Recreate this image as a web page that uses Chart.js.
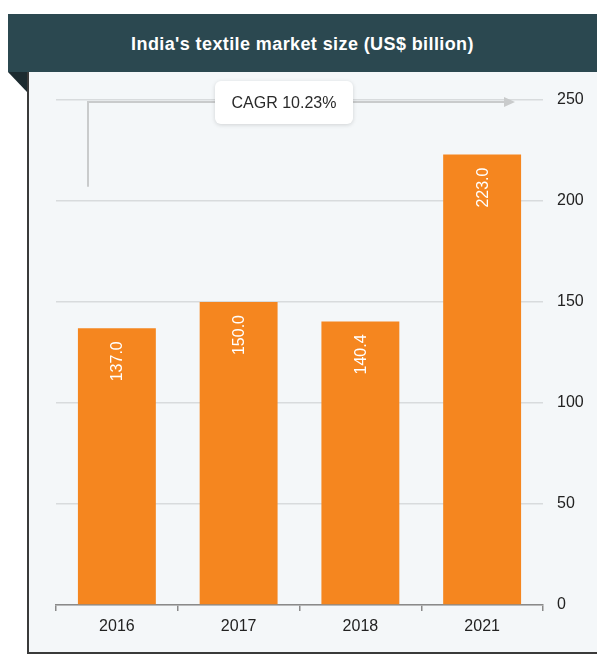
<!DOCTYPE html>
<html lang="en">
<head>
    <meta charset="UTF-8">
    <title>India's textile market size</title>
    <script src="https://cdn.jsdelivr.net/npm/chart.js"></script>
    <style>
        body {
            margin: 0;
            width: 597px;
            height: 660px;
            background: #ffffff;
            font-family: 'Liberation Sans', Arial, sans-serif;
            position: relative;
            overflow: hidden;
        }
        .header {
            position: absolute;
            left: 8px;
            top: 14px;
            width: 589px;
            height: 58px;
            background: #2b4850;
            color: #fff;
            font-weight: bold;
            font-size: 18px;
            letter-spacing: 0.4px;
            text-align: center;
            line-height: 60px;
        }
        .panel {
            position: absolute;
            left: 27px;
            top: 72px;
            width: 570px;
            height: 580px;
            background: #f4f7f9;
            border-left: 2px solid #3a3a3a;
            border-bottom: 2px solid #3a3a3a;
        }
        .corner {
            position: absolute;
            left: 8px;
            top: 72px;
            width: 0;
            height: 0;
            border-top: 20px solid #1c2b30;
            border-left: 19px solid transparent;
        }
        #chart {
            position: absolute;
            left: 0;
            top: 0;
        }
    </style>
</head>
<body>
    <div class="header">India's textile market size (US$ billion)</div>
    <div class="panel"></div>
    <div class="corner"></div>
    <canvas id="chart" width="597" height="660"></canvas>

    <script>
        const years = ['2016', '2017', '2018', '2021'];
        const marketSize = [137.0, 150.0, 140.4, 223.0];
        const yTicks = [0, 50, 100, 150, 200, 250];
        const cagrLabel = 'CAGR 10.23%';

        const FONT = '"Liberation Sans", Arial, sans-serif';

        // value labels rotated inside the top of each bar
        const barLabels = {
            id: 'barLabels',
            afterDatasetsDraw(chart) {
                const ctx = chart.ctx;
                const meta = chart.getDatasetMeta(0);
                ctx.save();
                ctx.fillStyle = '#ffffff';
                ctx.font = '16px ' + FONT;
                ctx.textAlign = 'right';
                ctx.textBaseline = 'middle';
                meta.data.forEach((bar, i) => {
                    ctx.save();
                    ctx.translate(bar.x, bar.y + 13);
                    ctx.rotate(-Math.PI / 2);
                    ctx.fillText(marketSize[i].toFixed(1), 0, 1);
                    ctx.restore();
                });
                ctx.restore();
            }
        };

        // CAGR arrow and callout box
        const cagrArrow = {
            id: 'cagrArrow',
            afterDraw(chart) {
                const ctx = chart.ctx;
                const area = chart.chartArea;
                const y = chart.scales.y;
                const x0 = area.left + 32;
                const yTop = y.getPixelForValue(249);
                const yBottom = y.getPixelForValue(207);
                const xEnd = area.right - 37;

                ctx.save();
                ctx.strokeStyle = '#c9cbcc';
                ctx.lineWidth = 2;
                ctx.beginPath();
                ctx.moveTo(x0, yBottom);
                ctx.lineTo(x0, yTop);
                ctx.lineTo(xEnd, yTop);
                ctx.stroke();
                ctx.fillStyle = '#c9cbcc';
                ctx.beginPath();
                ctx.moveTo(xEnd - 2, yTop - 5);
                ctx.lineTo(xEnd + 9, yTop);
                ctx.lineTo(xEnd - 2, yTop + 5);
                ctx.closePath();
                ctx.fill();

                const bw = 138, bh = 43;
                const bx = area.left + 159, by = yTop - 21;
                ctx.shadowColor = 'rgba(0,0,0,0.15)';
                ctx.shadowBlur = 4;
                ctx.shadowOffsetY = 1;
                ctx.fillStyle = '#ffffff';
                ctx.beginPath();
                ctx.roundRect(bx, by, bw, bh, 6);
                ctx.fill();
                ctx.shadowColor = 'transparent';
                ctx.fillStyle = '#2a2a2a';
                ctx.font = '16px ' + FONT;
                ctx.textAlign = 'center';
                ctx.textBaseline = 'middle';
                ctx.fillText(cagrLabel, bx + bw / 2, by + bh / 2 + 1);
                ctx.restore();
            }
        };

        new Chart(document.getElementById('chart'), {
            type: 'bar',
            data: {
                labels: years,
                datasets: [{
                    data: marketSize,
                    backgroundColor: '#f5861f',
                    barPercentage: 0.64,
                    categoryPercentage: 1
                }]
            },
            options: {
                responsive: false,
                animation: false,
                layout: { padding: { top: 100, left: 56, right: 0, bottom: 0 } },
                plugins: {
                    legend: { display: false },
                    tooltip: { enabled: false }
                },
                scales: {
                    x: {
                        afterFit: s => { s.height = 55; },
                        grid: {
                            offset: true,
                            drawOnChartArea: false,
                            drawTicks: true,
                            tickLength: 6,
                            color: '#8a8a8a',
                            lineWidth: 1.5
                        },
                        border: { color: '#8a8a8a', width: 1.5 },
                        ticks: {
                            color: '#222',
                            padding: 6,
                            font: { size: 16, family: FONT }
                        }
                    },
                    y: {
                        position: 'right',
                        min: 0,
                        max: 250,
                        afterFit: s => { s.width = 54; },
                        afterBuildTicks: s => { s.ticks = yTicks.map(v => ({ value: v })); },
                        grid: {
                            drawTicks: false,
                            color: '#d8dbdd',
                            lineWidth: 1.5
                        },
                        border: { display: false },
                        ticks: {
                            color: '#222',
                            padding: 14,
                            font: { size: 16, family: FONT }
                        }
                    }
                }
            },
            plugins: [barLabels, cagrArrow]
        });
    </script>
</body>
</html>
